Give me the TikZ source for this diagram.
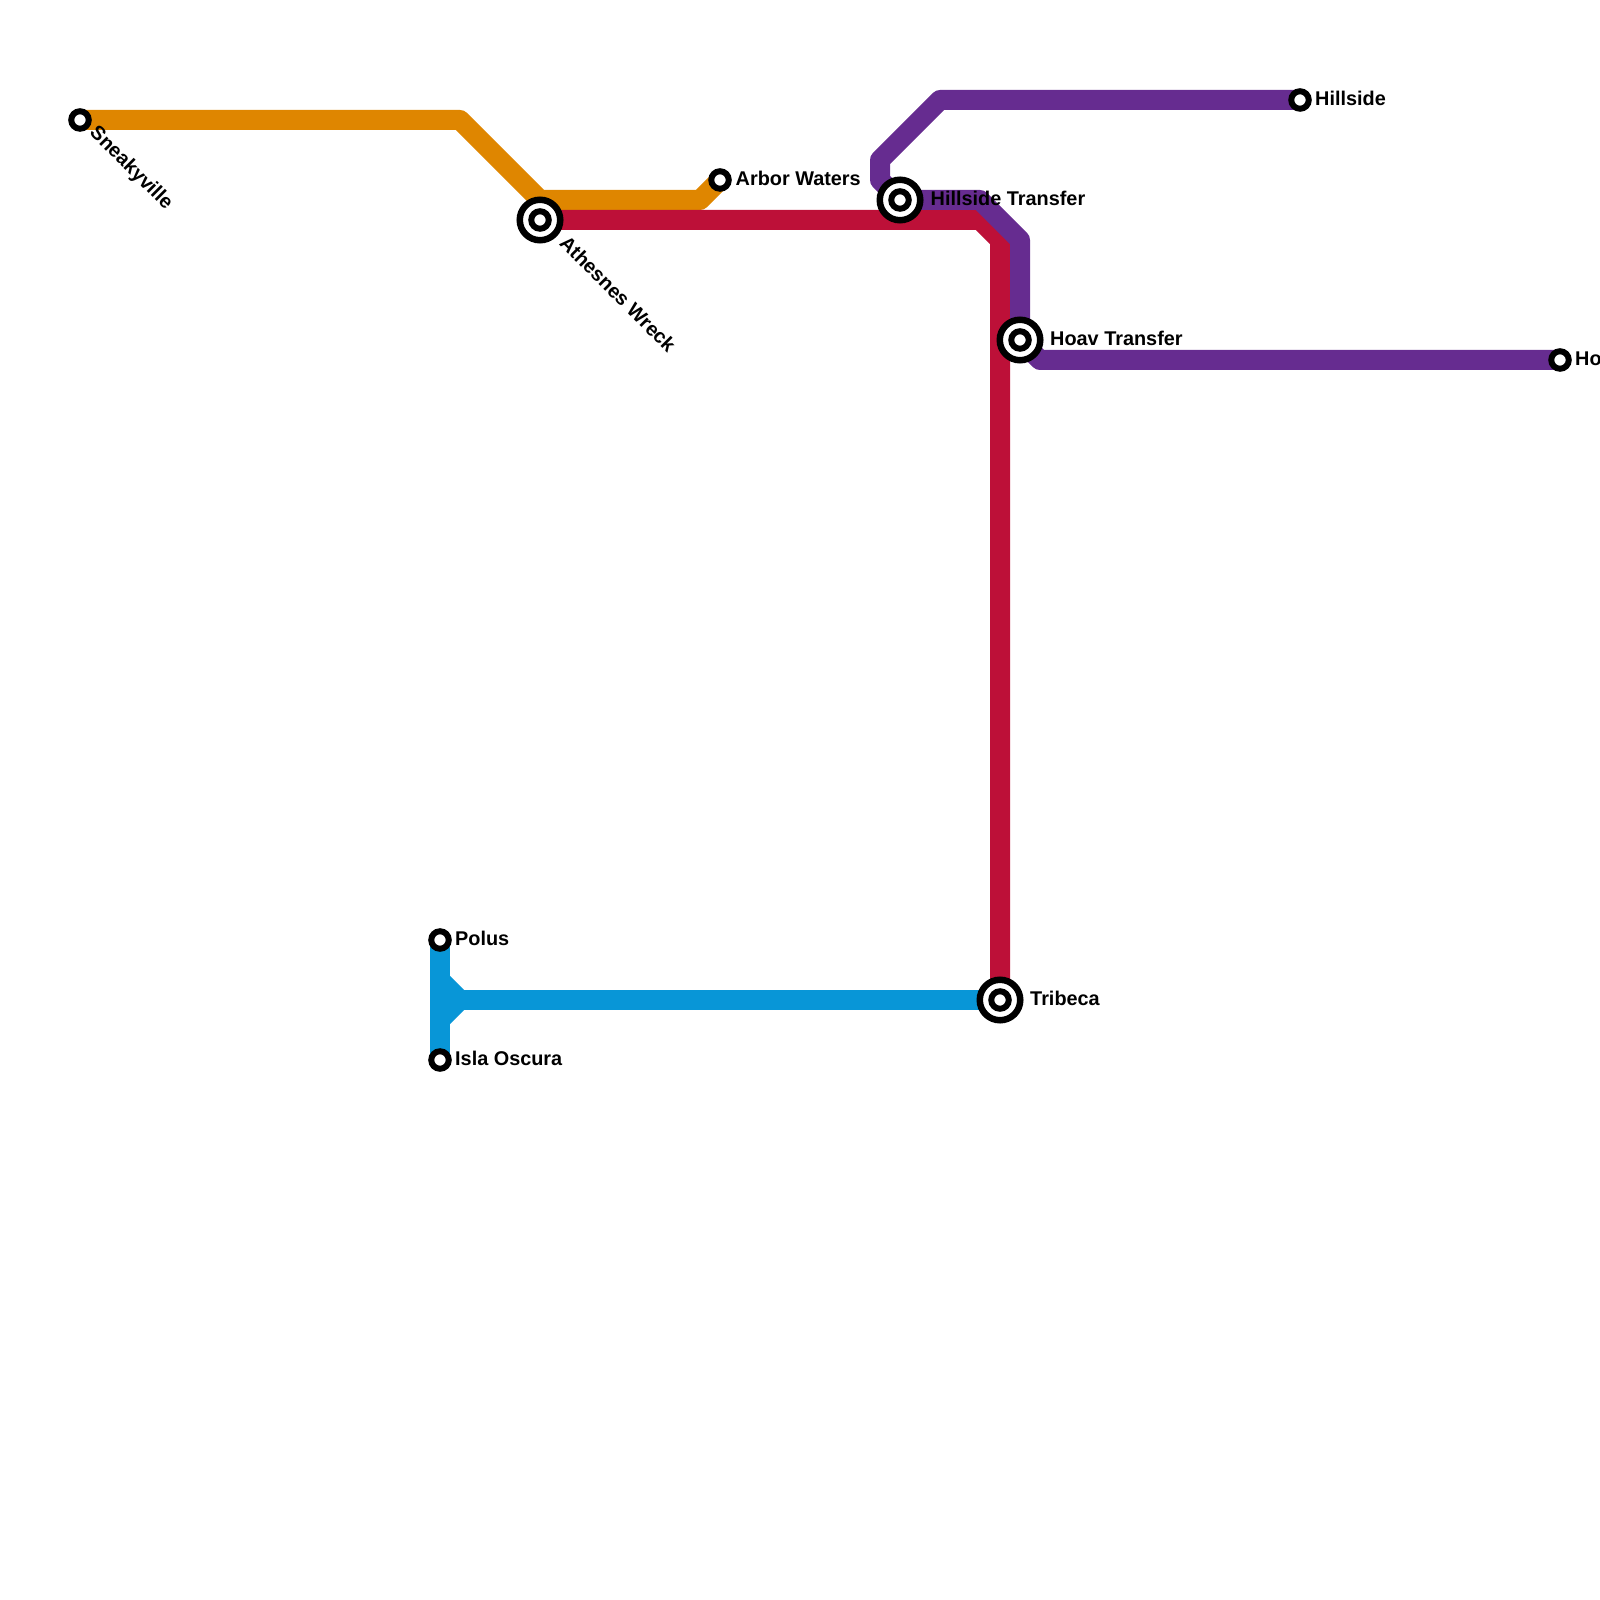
\documentclass[tikz,border=0pt]{standalone}
\usepackage{xcolor}
\usepackage{fontspec}
\setmainfont{Liberation Sans}
\usepackage{tikz}
\usetikzlibrary{backgrounds}
\definecolor{lineOrange}{RGB}{223,134,  0}
\definecolor{lineRed}{RGB}{189, 16, 56}
\definecolor{linePurple}{RGB}{102, 44,144}
\definecolor{lineBlue}{RGB}{  8,150,215}

\begin{document}
\begin{tikzpicture}[
    metro/.style={line width=0.2cm, line join=round},
    stopdot/.style={circle, draw=black, fill=white, line width=0.06cm, inner sep=0pt, minimum size=0.175cm},
    transfer/.style={circle, draw=black, fill=white, line width=0.065cm, inner sep=0pt, minimum size=0.405cm},
    stoplabel/.style={anchor=base west, inner sep=0pt, font=\fontsize{5.65}{7}\selectfont\bfseries}
  ]
  \clip (0,0) rectangle (16,-16);
  % transfer stations
  \node[transfer] (athesnes) at (5.4,-2.2) {};
  \node[stopdot] at (athesnes.center) {};
  \node[transfer] (hillsideT) at (9,-2) {};
  \node[stopdot] at (hillsideT.center) {};
  \node[transfer] (hoavT) at (10.2,-3.4) {};
  \node[stopdot] at (hoavT.center) {};
  \node[transfer] (tribeca) at (10,-10) {};
  \node[stopdot] at (tribeca.center) {};
  % end stations
  \node[stopdot] (sneaky) at (0.8,-1.2) {};
  \node[stopdot] (arbor) at (7.2,-1.8) {};
  \node[stopdot] (hillside) at (13,-1) {};
  \node[stopdot] (hoav) at (15.6,-3.6) {};
  \node[stopdot] (polus) at (4.4,-9.4) {};
  \node[stopdot] (isla) at (4.4,-10.6) {};
  % bends
  \coordinate (o1) at (4.6,-1.2);
  \coordinate (o2) at (5.4,-2);
  \coordinate (o3) at (7,-2);
  \coordinate (r1) at (9.8,-2.2);
  \coordinate (r2) at (10,-2.4);
  \coordinate (p1) at (9.4,-1);
  \coordinate (p2) at (8.8,-1.6);
  \coordinate (p3) at (8.8,-1.8);
  \coordinate (p4) at (9.8,-2);
  \coordinate (p5) at (10.2,-2.4);
  \coordinate (p6) at (10.4,-3.6);
  \coordinate (b1) at (4.4,-9.8);
  \coordinate (b2) at (4.6,-10);
  \coordinate (b3) at (4.4,-10.2);
  \begin{scope}[on background layer]
    \draw[metro, lineOrange] (sneaky.center) -- (o1) -- (o2) -- (o3) -- (arbor.center);
    \draw[metro, lineRed] (athesnes.center) -- (r1) -- (r2) -- (tribeca.center);
    \draw[metro, linePurple] (hillside.center) -- (p1) -- (p2) -- (p3) -- (hillsideT.center)
      -- (p4) -- (p5) -- (hoavT.center) -- (p6) -- (hoav.center);
    \draw[metro, lineBlue] (polus.center) -- (isla.center);
    \draw[metro, lineBlue] (b1) -- (b2) -- (b3);
    \draw[metro, lineBlue] (b2) -- (tribeca.center);
  \end{scope}
  % labels
  \node[stoplabel, rotate=-45] (sneakyL) at (0.885,-1.335) {Sneakyville};
  \node[stoplabel, rotate=-45] (athesnesL) at (5.58,-2.44) {Athesnes Wreck};
  \node[stoplabel] (arborL) at (7.35,-1.855) {Arbor Waters};
  \node[stoplabel] (hillsideTL) at (9.3,-2.055) {Hillside Transfer};
  \node[stoplabel] (hillsideL) at (13.145,-1.055) {Hillside};
  \node[stoplabel] (hoavTL) at (10.495,-3.455) {Hoav Transfer};
  \node[stoplabel] (hoavL) at (15.745,-3.655) {Ho};
  \node[stoplabel] (polusL) at (4.545,-9.455) {Polus};
  \node[stoplabel] (islaL) at (4.545,-10.655) {Isla Oscura};
  \node[stoplabel] (tribecaL) at (10.295,-10.055) {Tribeca};
\end{tikzpicture}
\end{document}
